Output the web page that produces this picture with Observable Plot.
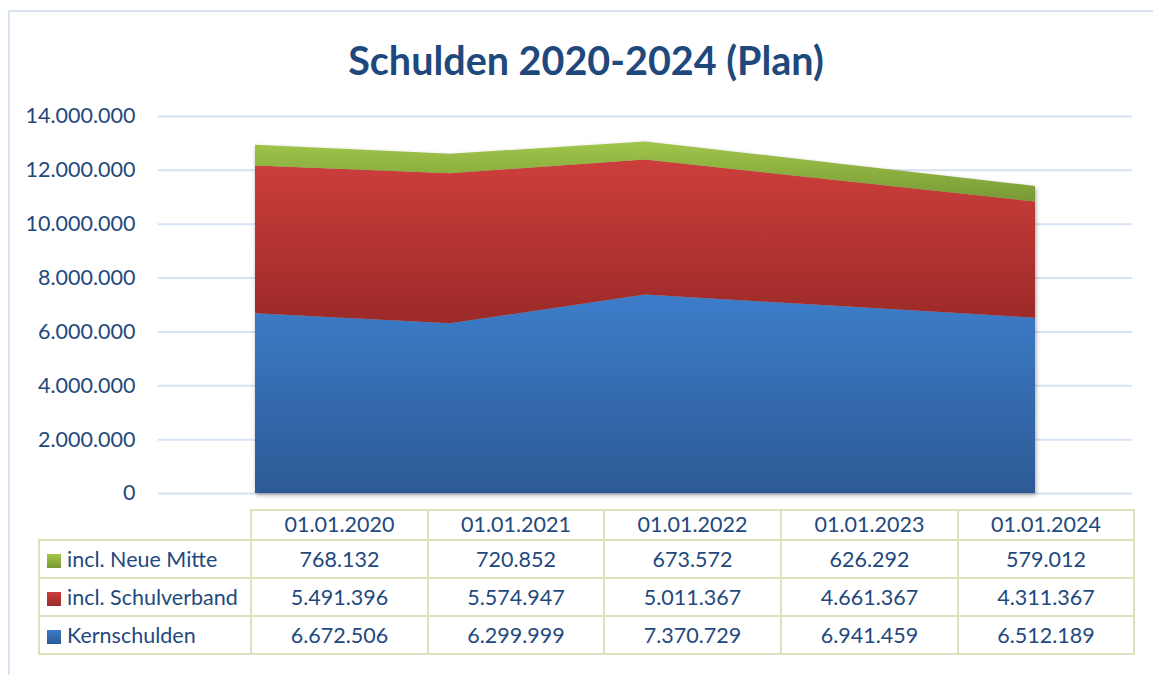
<!DOCTYPE html>
<html><head><meta charset="utf-8">
<script src="https://cdn.jsdelivr.net/npm/d3@7"></script>
<script src="https://cdn.jsdelivr.net/npm/@observablehq/plot@0.6"></script>
<style>
body{margin:0;background:#fff;overflow:hidden;}
#wrap{position:relative;width:1153px;height:675px;overflow:hidden;font-family:Lato,"Open Sans",sans-serif;color:#1f497d;}
#frame{position:absolute;left:8px;top:10px;width:1300px;height:800px;border:2px solid #dae3f1;}
#title{position:absolute;left:0;top:36px;width:1153px;text-align:center;font-weight:700;font-size:39.5px;line-height:48px;padding-left:19px;box-sizing:border-box;}
#chart{position:absolute;left:0;top:95px;}
#tbl{position:absolute;left:38px;top:509px;border-collapse:collapse;font-size:21.5px;color:#1f497d;}
#tbl td{border:2px solid #d7e4bd;text-align:center;padding:0;white-space:nowrap;line-height:24px;}
#tbl tr.h td{padding-bottom:2px;}
#tbl td.lg{text-align:left;padding-left:7px;}
#tbl td.blank{border-top:none;border-left:none;}
.sw{display:inline-block;width:14px;height:14px;margin-right:6px;vertical-align:-1px;}
</style></head>
<body>
<svg width="0" height="0" style="position:absolute">
<defs>
<linearGradient id="gBlue" x1="0" y1="0" x2="0" y2="1"><stop offset="0" stop-color="#3d7dca"/><stop offset="1" stop-color="#2c5a95"/></linearGradient>
<linearGradient id="gRed" x1="0" y1="0" x2="0" y2="1"><stop offset="0" stop-color="#cd3e3b"/><stop offset="1" stop-color="#9b2a28"/></linearGradient>
<linearGradient id="gGreen" x1="0" y1="0" x2="0" y2="1"><stop offset="0" stop-color="#a1c64b"/><stop offset="1" stop-color="#789934"/></linearGradient>
</defs></svg>
<div id="wrap">
<div id="frame"></div>
<div id="title">Schulden 2020-2024 (Plan)</div>
<div id="chart"></div>
<table id="tbl"></table>
</div>
<script>
const dates = ["01.01.2020","01.01.2021","01.01.2022","01.01.2023","01.01.2024"];
const kernschulden = [6672506, 6299999, 7370729, 6941459, 6512189];
const schulverband = [5491396, 5574947, 5011367, 4661367, 4311367];
const neueMitte = [768132, 720852, 673572, 626292, 579012];
const seriesNames = ["incl. Neue Mitte","incl. Schulverband","Kernschulden"];
const yTicks = [0,2000000,4000000,6000000,8000000,10000000,12000000,14000000];

const de = d3.formatLocale({decimal:",", thousands:".", grouping:[3], currency:["","€"]});
const fmt = de.format(",d");

const rows = dates.map((d,i)=>({
  date:d,
  base:0,
  k:kernschulden[i],
  s:kernschulden[i]+schulverband[i],
  m:kernschulden[i]+schulverband[i]+neueMitte[i]
}));

const font = "Lato, 'Open Sans', sans-serif";
const plot = Plot.plot({
  width:1153, height:410,
  marginLeft:158, marginRight:21, marginTop:0, marginBottom:0,
  x:{type:"point", domain:dates, range:[255,1035], padding:0, axis:null},
  y:{domain:[0,14000000], range:[398,21]},
  style:{fontFamily:font, fontSize:"21.5px", color:"#1f497d", background:"transparent", overflow:"visible"},
  marks:[
    Plot.gridY(yTicks,{stroke:"#d7e2f2", strokeOpacity:1, strokeWidth:2}),
    Plot.axisY(yTicks,{tickSize:0, tickPadding:23, tickFormat:fmt, label:null, fill:"#1f497d", fontSize:21.5}),
    Plot.areaY(rows,{x:"date", y1:"base", y2:"k", fill:"url(#gBlue)", curve:"linear"}),
    Plot.areaY(rows,{x:"date", y1:"k", y2:"s", fill:"url(#gRed)", curve:"linear"}),
    Plot.areaY(rows,{x:"date", y1:"s", y2:"m", fill:"url(#gGreen)", curve:"linear"})
  ]
});
// group the areas under one soft shadow
const areas = plot.querySelectorAll('g[aria-label="area"]');
if (areas.length) {
  const g = document.createElementNS("http://www.w3.org/2000/svg","g");
  g.setAttribute("style","filter:drop-shadow(1px 2px 2px rgba(0,0,0,0.35))");
  areas[0].parentNode.insertBefore(g, areas[0]);
  areas.forEach(a=>g.appendChild(a));
}
document.getElementById("chart").appendChild(plot);

// data table
const tbl = document.getElementById("tbl");
const widths = [212,177,176,177,177,176];
const colgroup = document.createElement("colgroup");
widths.forEach(w=>{const c=document.createElement("col"); c.style.width=w+"px"; colgroup.appendChild(c);});
tbl.appendChild(colgroup);
const hdr = document.createElement("tr"); hdr.style.height="30px"; hdr.className="h";
const blank = document.createElement("td"); blank.className="blank"; hdr.appendChild(blank);
dates.forEach(d=>{const td=document.createElement("td"); td.textContent=d; hdr.appendChild(td);});
tbl.appendChild(hdr);
const seriesVals = [neueMitte, schulverband, kernschulden];
const grads = ["linear-gradient(#a1c64b,#789934)","linear-gradient(#cd3e3b,#9b2a28)","linear-gradient(#3d7dca,#2c5a95)"];
seriesNames.forEach((n,si)=>{
  const tr=document.createElement("tr"); tr.style.height="38px";
  const lg=document.createElement("td"); lg.className="lg";
  const sw=document.createElement("span"); sw.className="sw"; sw.style.background=grads[si];
  lg.appendChild(sw); lg.appendChild(document.createTextNode(n)); tr.appendChild(lg);
  seriesVals[si].forEach(v=>{const td=document.createElement("td"); td.textContent=fmt(v); tr.appendChild(td);});
  tbl.appendChild(tr);
});
</script>
</body></html>
